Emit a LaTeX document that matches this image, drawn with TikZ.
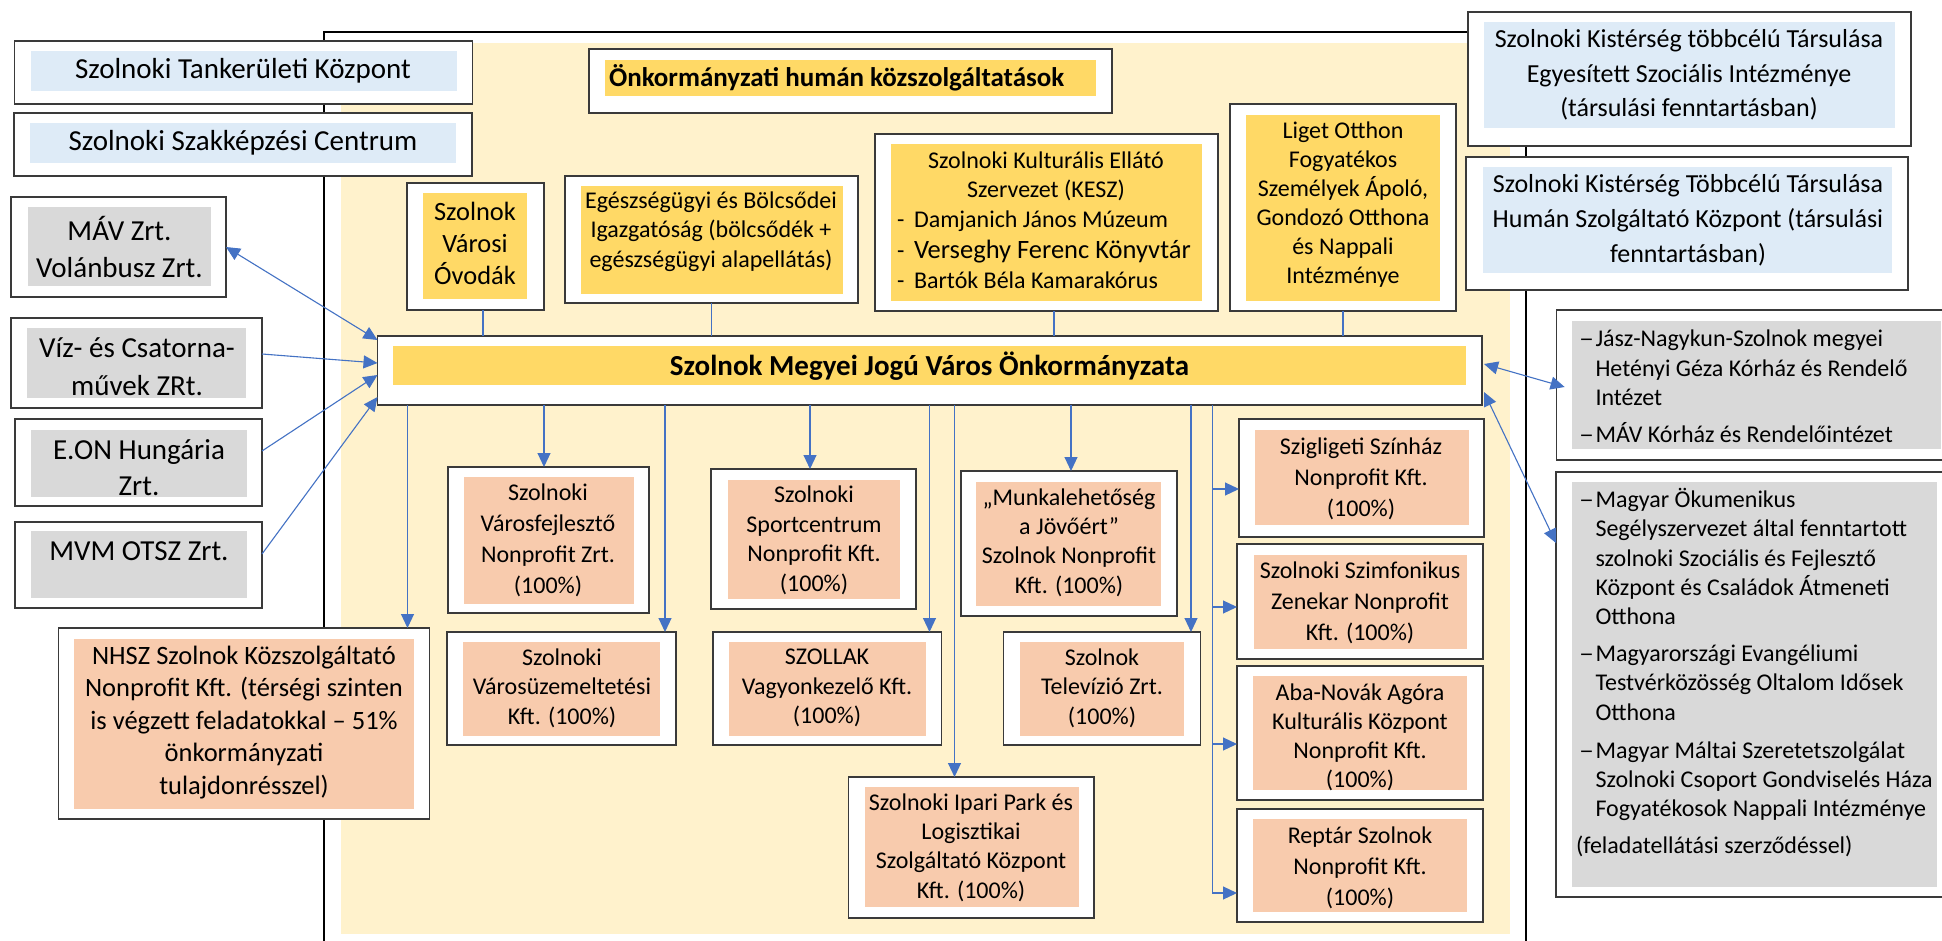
\documentclass[tikz,border=0pt]{standalone}
\usepackage{fontspec}
\setmainfont{Carlito}
\usetikzlibrary{arrows.meta,calc}
\definecolor{cream}{HTML}{FFF2CC}
\definecolor{gold}{HTML}{FFD966}
\definecolor{salmon}{HTML}{F8CBAD}
\definecolor{ltblue}{HTML}{DEEBF7}
\definecolor{ltgrey}{HTML}{D9D9D9}
\definecolor{conn}{HTML}{4472C4}
\definecolor{edgegrey}{HTML}{3A3A3A}
\tikzset{
  boxo/.style={draw=edgegrey, line width=1.3pt, fill=white, inner sep=0pt, outer sep=0pt},
  boxi/.style={inner sep=0pt, outer sep=0pt},
  txt/.style={inner sep=0pt, outer sep=0pt, align=center, text=black},
  lnk/.style={draw=conn, line width=1.1pt},
  arr/.style={lnk, -{Triangle[length=14pt,width=13pt]}},
  darr/.style={lnk, {Triangle[length=14pt,width=13pt]}-{Triangle[length=14pt,width=13pt]}},
  frameline/.style={draw=black, line width=2.6pt},
}
\newcommand{\OB}[5]{\node[boxo, minimum width={(#4-#2)*1pt}, minimum height={(#5-#3)*1pt}] (#1) at ({(#2+#4)/2},{(#3+#5)/2}) {};}
\newcommand{\IB}[6]{\node[boxi, fill=#6, minimum width={(#4-#2)*1pt}, minimum height={(#5-#3)*1pt}] (#1) at ({(#2+#4)/2},{(#3+#5)/2}) {};}
\newcommand{\fs}[2]{\fontsize{#1pt}{#2pt}\selectfont}
\newcommand{\dsh}{\makebox[17.5pt][r]{\scalebox{1.25}[1]{–}\hspace{1.5pt}}}
\newcommand{\ind}{\hspace*{17.5pt}}
\begin{document}
\begin{tikzpicture}[x=1pt,y=-1pt]
\useasboundingbox (0,0) rectangle (1942,941);
\fill[white] (0,0) rectangle (1942,941);
% background panel and frame
\fill[cream] (341,43) rectangle (1510,934);
\draw[frameline] (324,941) -- (324,32) -- (1526,32) -- (1526,941);

% boxes
\OB{tank}{14.7}{41}{472.7}{104} \IB{tank-i}{31}{51}{457}{91}{ltblue}
\OB{szak}{14}{113}{472}{176} \IB{szak-i}{30}{123}{456}{163}{ltblue}
\OB{mav}{11}{197}{226}{297} \IB{mav-i}{28}{207}{211}{286}{ltgrey}
\OB{viz}{11}{318}{262}{408} \IB{viz-i}{27}{328}{246}{398}{ltgrey}
\OB{eon}{15}{419}{262}{506} \IB{eon-i}{31}{430}{247}{497}{ltgrey}
\OB{mvm}{15}{522}{262}{608} \IB{mvm-i}{31}{531}{247}{598}{ltgrey}
\OB{nhsz}{58.5}{628}{429.5}{819} \IB{nhsz-i}{74}{639}{414}{809}{salmon}
\OB{ovoda}{407}{183}{544}{310} \IB{ovoda-i}{423}{193}{527}{299}{gold}
\OB{egesz}{565}{176}{858}{303} \IB{egesz-i}{581}{186}{843}{294}{gold}
\OB{kult}{875}{134}{1218}{311} \IB{kult-i}{891}{144}{1202}{301}{gold}
\OB{liget}{1230}{104}{1456}{311} \IB{liget-i}{1246}{115}{1440}{301}{gold}
\OB{onk}{589}{49}{1112}{113} \IB{onk-i}{605}{60}{1096}{96}{gold}
\OB{kist1}{1468}{12}{1911}{146} \IB{kist1-i}{1484}{22}{1895}{128}{ltblue}
\OB{kist2}{1466}{157}{1908}{290} \IB{kist2-i}{1483}{167}{1892}{273}{ltblue}
\OB{main}{377.5}{336}{1482}{405} \IB{main-i}{393}{346}{1466}{385}{gold}
\OB{varosf}{448}{467}{649}{613} \IB{varosf-i}{464}{477}{634}{604}{salmon}
\OB{sport}{711}{469}{916}{609} \IB{sport-i}{728}{480}{900}{599}{salmon}
\OB{munka}{961}{471}{1177}{616} \IB{munka-i}{976}{482}{1161}{606}{salmon}
\OB{szigl}{1239}{419}{1484}{537} \IB{szigl-i}{1255}{430}{1469}{525}{salmon}
\OB{szimf}{1237}{544}{1483}{659} \IB{szimf-i}{1253.5}{555}{1467}{649}{salmon}
\OB{varosu}{447}{632}{676}{745} \IB{varosu-i}{463}{642}{660}{736}{salmon}
\OB{szollak}{713}{632}{941.5}{745} \IB{szollak-i}{729}{642}{925.5}{736}{salmon}
\OB{tv}{1003.5}{632}{1200.4}{745} \IB{tv-i}{1020}{642}{1184}{736}{salmon}
\OB{aba}{1237}{666}{1483}{800} \IB{aba-i}{1253}{676}{1467}{790}{salmon}
\OB{reptar}{1237}{809}{1483}{922} \IB{reptar-i}{1253}{819}{1467}{912}{salmon}
\OB{ipari}{848.6}{777}{1094}{918} \IB{ipari-i}{865}{787}{1078.6}{907}{salmon}
\OB{het}{1556.6}{310}{1950}{460} \IB{het-i}{1572}{321}{1941}{449}{ltgrey}
\OB{okum}{1556}{472}{1950}{897} \IB{okum-i}{1572}{482}{1937}{887}{ltgrey}

% texts
\node[txt, font=\fs{29}{35}] (tank-t) at (243,71) {Szolnoki Tankerületi Központ};
\node[txt, font=\fs{29}{35}] (szak-t) at (243,143) {Szolnoki Szakképzési Centrum};
\node[txt, font=\fs{29}{37}] (mav-t) at (119.5,247) {MÁV Zrt.\\Volánbusz Zrt.};
\node[txt, font=\fs{29}{38}] (viz-t) at (137,366.5) {Víz- és Csatorna-\\művek ZRt.};
\node[txt, font=\fs{29}{36}] (eon-t) at (139,467.5) {E.ON Hungária\\Zrt.};
\node[txt, font=\fs{29}{36}] (mvm-t) at (139,551) {MVM OTSZ Zrt.};
\node[txt, font=\fs{26.5}{32.5}] (nhsz-t) at (244,722.5) {NHSZ Szolnok Közszolgáltató\\Nonprofit Kft. (térségi szinten\\is végzett feladatokkal – 51\%\\önkormányzati\\tulajdonrésszel)};
\node[txt, font=\fs{26.4}{32}] (ovoda-t) at (475,243.5) {Szolnok\\Városi\\Óvodák};
\node[txt, font=\fs{24}{29.5}] (egesz-t) at (711,231.5) {Egészségügyi és Bölcsődei\\Igazgatóság (bölcsődék +\\egészségügyi alapellátás)};
\node[txt, font=\fs{24}{29}] (kult-t1) at (1046,176) {Szolnoki Kulturális Ellátó\\Szervezet (KESZ)};
\node[txt, font=\fs{24}{30.5}, align=left, anchor=west] (kult-t2) at (897,250) {\makebox[17pt][l]{-}Damjanich János Múzeum\\\makebox[17pt][l]{-}{\fs{26.5}{30.5}Verseghy Ferenc Könyvtár}\\\makebox[17pt][l]{-}Bartók Béla Kamarakórus};
\node[txt, font=\fs{24}{29}] (liget-t) at (1343,204.5) {Liget Otthon\\Fogyatékos\\Személyek Ápoló,\\Gondozó Otthona\\és Nappali\\Intézménye};
\node[txt, font=\bfseries\fs{27}{32}, anchor=west] (onk-t) at (609,78) {Önkormányzati humán közszolgáltatások};
\node[txt, font=\fs{26}{34.5}] (kist1-t) at (1689,75) {Szolnoki Kistérség többcélú Társulása\\Egyesített Szociális Intézménye\\(társulási fenntartásban)};
\node[txt, font=\fs{26}{35}] (kist2-t) at (1688,220.5) {Szolnoki Kistérség Többcélú Társulása\\Humán Szolgáltató Központ (társulási\\fenntartásban)};
\node[txt, font=\bfseries\fs{29}{35}] (main-t) at (929.5,366) {Szolnok Megyei Jogú Város Önkormányzata};
\node[txt, font=\fs{24}{31}] (varosf-t) at (548,540.5) {Szolnoki\\Városfejlesztő\\Nonprofit Zrt.\\(100\%)};
\node[txt, font=\fs{24}{29.5}] (sport-t) at (814,540.5) {Szolnoki\\Sportcentrum\\Nonprofit Kft.\\(100\%)};
\node[txt, font=\fs{24}{29.3}] (munka-t) at (1069,542.5) {„Munkalehetőség\\a Jövőért”\\Szolnok Nonprofit\\Kft. (100\%)};
\node[txt, font=\fs{24}{31}] (szigl-t) at (1361,478.5) {Szigligeti Színház\\Nonprofit Kft.\\(100\%)};
\node[txt, font=\fs{24}{31}] (szimf-t) at (1360,602.5) {Szolnoki Szimfonikus\\Zenekar Nonprofit\\Kft. (100\%)};
\node[txt, font=\fs{24}{29.5}] (varosu-t) at (562,688) {Szolnoki\\Városüzemeltetési\\Kft. (100\%)};
\node[txt, font=\fs{24}{29.5}] (szollak-t) at (827,688) {SZOLLAK\\Vagyonkezelő Kft.\\(100\%)};
\node[txt, font=\fs{24}{29.5}] (tv-t) at (1102,688) {Szolnok\\Televízió Zrt.\\(100\%)};
\node[txt, font=\fs{24}{29.3}] (ipari-t) at (971,847.5) {Szolnoki Ipari Park és\\Logisztikai\\Szolgáltató Központ\\Kft. (100\%)};
\node[txt, font=\fs{24}{29}] (aba-t) at (1360,737) {Aba-Novák Agóra\\Kulturális Központ\\Nonprofit Kft.\\(100\%)};
\node[txt, font=\fs{24}{31}] (reptar-t) at (1360,867.5) {Reptár Szolnok\\Nonprofit Kft.\\(100\%)};
\node[txt, font=\fs{24}{29.5}, align=left, anchor=west] (het-t) at (1578,386.5) {\dsh Jász-Nagykun-Szolnok megyei\\\ind Hetényi Géza Kórház és Rendelő\\\ind Intézet\\[7.5pt]\dsh MÁV Kórház és Rendelőintézet};
\node[txt, font=\fs{24}{29.3}, align=left, anchor=west] (okum-t) at (1578,672.5) {\dsh Magyar Ökumenikus\\\ind Segélyszervezet által fenntartott\\\ind szolnoki Szociális és Fejlesztő\\\ind Központ és Családok Átmeneti\\\ind Otthona\\[7.7pt]\dsh Magyarországi Evangéliumi\\\ind Testvérközösség Oltalom Idősek\\\ind Otthona\\[8.5pt]\dsh Magyar Máltai Szeretetszolgálat\\\ind Szolnoki Csoport Gondviselés Háza\\\ind Fogyatékosok Nappali Intézménye\\[7.5pt]\hspace*{-2pt}(feladatellátási szerződéssel)};

% helper x positions
\coordinate (xOv) at (483,0);
\coordinate (xKu) at (1054,0);
\coordinate (xNh) at (407.5,0);
\coordinate (xVf) at (544,0);
\coordinate (xVu) at (665,0);
\coordinate (xSp) at (810,0);
\coordinate (xSz) at (929.5,0);
\coordinate (xIp) at (954.5,0);
\coordinate (xMu) at (1071,0);
\coordinate (xTv) at (1191,0);
\coordinate (bSg) at (1212.5,489);
\coordinate (bSf) at (1212.5,607);
\coordinate (bAb) at (1212.5,744);
\coordinate (bRe) at (1212.5,893);

% plain links from human services to main
\draw[lnk] (ovoda.south -| xOv) -- (main.north -| xOv);
\draw[lnk] (egesz.south) -- (egesz.south |- main.north);
\draw[lnk] (kult.south -| xKu) -- (main.north -| xKu);
\draw[lnk] (liget.south) -- (liget.south |- main.north);

% arrows down from main
\draw[arr] (main.south -| xNh) -- (nhsz.north -| xNh);
\draw[arr] (main.south -| xVf) -- (varosf.north -| xVf);
\draw[arr] (main.south -| xVu) -- (varosu.north -| xVu);
\draw[arr] (main.south -| xSp) -- (sport.north -| xSp);
\draw[arr] (main.south -| xSz) -- (szollak.north -| xSz);
\draw[arr] (main.south -| xIp) -- (ipari.north -| xIp);
\draw[arr] (main.south -| xMu) -- (munka.north -| xMu);
\draw[arr] (main.south -| xTv) -- (tv.north -| xTv);
\draw[arr] (main.south -| bRe) |- (reptar.west |- bRe);
\draw[arr] (bSg) -- (szigl.west |- bSg);
\draw[arr] (bSf) -- (szimf.west |- bSf);
\draw[arr] (bAb) -- (aba.west |- bAb);

% arrows from left boxes
\draw[darr] (mav.east) -- ($(main.north west)+(0,4)$);
\draw[arr] ($(viz.east)+(0,-9)$) -- ($(main.north west)+(0,27)$);
\draw[arr] ($(eon.east)+(0,-11.5)$) -- ($(main.north west)+(0,39)$);
\draw[arr] ($(mvm.east)+(0,-11)$) -- ($(main.north west)+(0,61)$);

% arrows to right boxes
\draw[darr] ($(main.north east)+(2,28)$) -- ($(het.north west)+(8,77)$);
\draw[darr] ($(main.north east)+(2,56)$) -- ($(okum.north west)+(0,71)$);
\end{tikzpicture}
\end{document}
